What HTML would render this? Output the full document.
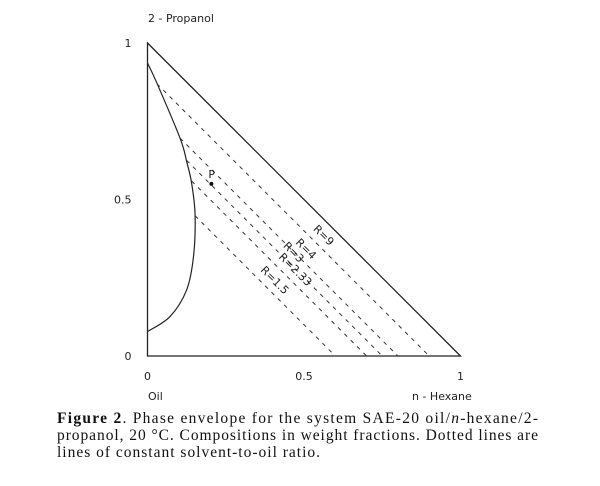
<!DOCTYPE html>
<html><head><meta charset="utf-8"><style>
body{margin:0;background:#fff;}
svg{display:block;}
.t{font-family:"DejaVu Sans","Liberation Sans",sans-serif;font-size:11px;fill:#222;}
.c{font-family:"Liberation Serif",serif;font-size:15.5px;fill:#111;}
</style></head><body>
<svg id="chart" width="600" height="486" viewBox="0 0 600 486">
<g id="plot"></g>
<text class="t" x="148" y="22">2 - Propanol</text>
<text class="t" x="148" y="400">Oil</text>
<text class="t" x="412" y="400">n - Hexane</text>
<text class="c" x="57" y="423" textLength="481" lengthAdjust="spacing"><tspan font-weight="bold">Figure 2</tspan>.  Phase envelope for the system SAE-20 oil/<tspan font-style="italic">n</tspan>-hexane/2-</text>
<text class="c" x="57" y="440" textLength="481" lengthAdjust="spacing">propanol, 20 °C.  Compositions in weight fractions.  Dotted lines are</text>
<text class="c" x="57" y="457" textLength="263" lengthAdjust="spacing">lines of constant solvent-to-oil ratio.</text>
</svg>
<script>
const ticks=[0,0.5,1];
const tickLabels=["0","0.5","1"];
const envX=[0,0.03,0.104,0.125,0.141,0.152,0.147,0.125,0.072,0];
const envY=[0.936,0.872,0.696,0.622,0.552,0.451,0.318,0.211,0.126,0.078];
const ratioLabels=["R=9","R=4","R=3","R=2.33","R=1.5"];
const ratioSum=[0.9,0.8,0.75,0.7,0.6];
const ratioStartX=[0.03,0.104,0.125,0.141,0.152];
const labelPos=[0.55,0.5,0.46,0.46,0.42];
const pointP=[0.204,0.55];
const X0=147.5,Y0=356,U=313;
const sx=v=>X0+v*U, sy=v=>Y0-v*U;
const NS="http://www.w3.org/2000/svg";
const g=document.getElementById('plot');
function mk(t,a){const e=document.createElementNS(NS,t);for(const k in a)e.setAttribute(k,a[k]);g.appendChild(e);return e;}
let e;
e=mk('path',{d:`M${sx(0)},${sy(1)}L${sx(0)},${sy(0)}L${sx(1)},${sy(0)}Z`,fill:'none',stroke:'#222','stroke-width':1.3});


ticks.forEach((v,i)=>{
 let t=mk('text',{x:sx(0)-16,y:sy(v)+4,'text-anchor':'end',class:'t'});t.textContent=tickLabels[i];
 
 
 t=mk('text',{x:sx(v),y:380,'text-anchor':'middle',class:'t'});t.textContent=tickLabels[i];
 
 
});
let pts=envX.map((x,i)=>[sx(x),sy(envY[i])]);
let d=`M${pts[0][0]},${pts[0][1]}`;
for(let i=0;i<pts.length-1;i++){
 const p0=pts[i-1]||pts[i],p1=pts[i],p2=pts[i+1],p3=pts[i+2]||p2;
 d+=`C${p1[0]+(p2[0]-p0[0])/6},${p1[1]+(p2[1]-p0[1])/6} ${p2[0]-(p3[0]-p1[0])/6},${p2[1]-(p3[1]-p1[1])/6} ${p2[0]},${p2[1]}`;
}
e=mk('path',{d,fill:'none',stroke:'#222','stroke-width':1.2});


ratioSum.forEach((c,i)=>{
 const x1=ratioStartX[i],y1=c-x1;
 let l=mk('line',{x1:sx(x1),y1:sy(y1),x2:sx(c),y2:sy(0),stroke:'#333','stroke-width':1,'stroke-dasharray':'4,5'});
 
 
 const lx=x1+(c-x1)*labelPos[i],ly=c-lx;
 let t=mk('text',{x:sx(lx)+6,y:sy(ly)-4,class:'t','font-size':'10',transform:`rotate(45 ${sx(lx)+6} ${sy(ly)-4})`});
 t.textContent=ratioLabels[i];
 
 
});
e=mk('circle',{cx:sx(pointP[0]),cy:sy(pointP[1]),r:2,fill:'#111'});


e=mk('text',{x:sx(pointP[0])-3,y:sy(pointP[1])-6,class:'t','font-size':'10'});e.textContent='P';


</script>
</body></html>
